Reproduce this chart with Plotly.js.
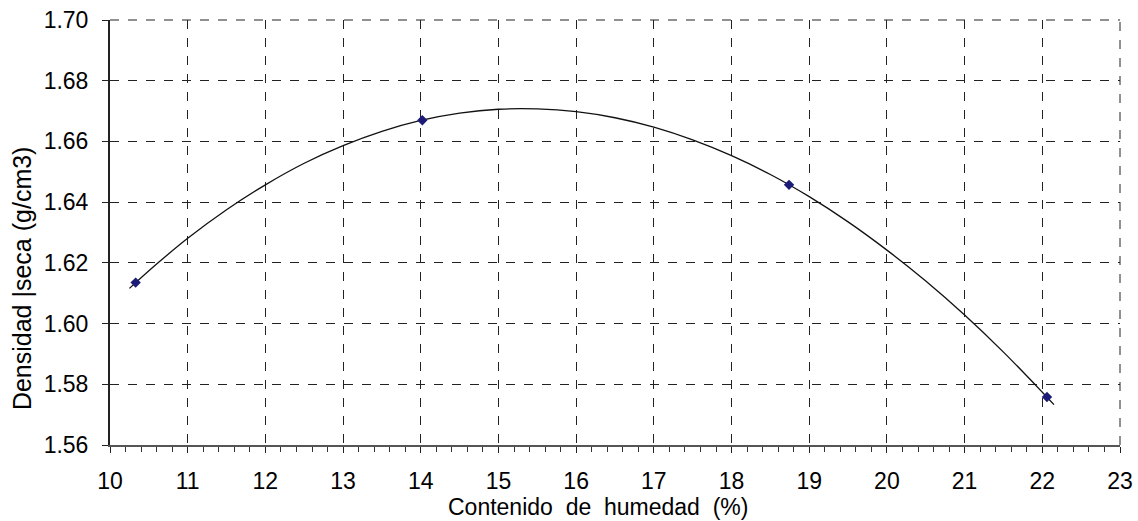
<!DOCTYPE html>
<html>
<head>
<meta charset="utf-8">
<script src="https://cdn.plot.ly/plotly-3.0.1.min.js"></script>
<style>html,body{margin:0;padding:0;background:#fff;}#chart{width:1138px;height:521px;}</style>
</head>
<body>
<div id="chart"></div>
<script>
// Measured points
var humedad = [10.33, 14.02, 18.74, 22.06];
var densidad = [1.6135, 1.667, 1.6457, 1.5758];

// Trend curve
var curveX = [10.25, 10.6, 11, 11.5, 12, 12.5, 13, 13.5, 14, 14.5, 15, 15.5, 16, 16.5, 17, 17.5, 18, 18.5, 19, 19.5, 20, 20.5, 21, 21.5, 22, 22.15];
var curveY = [1.6116, 1.6196, 1.6281, 1.6375, 1.6457, 1.6528, 1.6586, 1.6633, 1.6669, 1.6693, 1.6706, 1.6707, 1.6698, 1.6678, 1.6647, 1.6605, 1.6553, 1.6491, 1.6418, 1.6335, 1.6242, 1.6140, 1.6028, 1.5906, 1.5774, 1.5733];

var xTickVals = [10,11,12,13,14,15,16,17,18,19,20,21,22,23];
var yTickVals = [1.56,1.58,1.60,1.62,1.64,1.66,1.68,1.70];
var xTitle = 'Contenido\u00A0\u00A0de\u00A0\u00A0humedad\u00A0\u00A0(%)';
var yTitle = 'Densidad\u00A0|seca\u00A0(g/cm3)';

var traces = [
  {x: curveX, y: curveY, mode: 'lines', line: {color: '#111', width: 1.3, shape: 'spline'}, hoverinfo: 'skip'},
  {x: humedad, y: densidad, mode: 'markers', marker: {symbol: 'diamond', size: 8, color: '#1c1c78'}}
];

var gridDash = {color: '#222', width: 1, dash: 'dash'};

var layout = {
  width: 1138, height: 521,
  margin: {l: 110, r: 18, t: 20, b: 76},
  paper_bgcolor: '#fff', plot_bgcolor: '#fff',
  showlegend: false,
  font: {family: 'Liberation Sans, Arial, sans-serif', size: 23, color: '#000'},
  xaxis: {
    range: [10, 23], tickvals: xTickVals, ticktext: xTickVals.map(String),
    showgrid: true, gridcolor: '#222', griddash: 'dash', gridwidth: 1,
    showline: true, linecolor: '#555', linewidth: 2,
    ticks: 'outside', ticklen: 6, tickcolor: '#222', tickwidth: 1,
    minor: {dtick: 0.2, ticks: 'outside', ticklen: 5, tickcolor: '#333', showgrid: false},
    zeroline: false,
    ticklabelstandoff: 8,
    tickfont: {size: 23}
  },
  yaxis: {
    range: [1.56, 1.70], tickvals: yTickVals, ticktext: yTickVals.map(function(v){return v.toFixed(2);}),
    showgrid: true, gridcolor: '#222', griddash: 'dash', gridwidth: 1,
    showline: true, linecolor: '#222', linewidth: 2,
    ticks: 'outside', ticklen: 6, tickcolor: '#222', tickwidth: 1,
    zeroline: false,
    ticklabelstandoff: 9,
    tickfont: {size: 23}
  },
  annotations: [
    {text: xTitle, xref: 'paper', yref: 'paper', x: 0.483, y: -0.146, xanchor: 'center', yanchor: 'middle', showarrow: false, font: {size: 23}},
    {text: yTitle, xref: 'paper', yref: 'paper', x: -0.087, y: 0.393, xanchor: 'center', yanchor: 'middle', textangle: -90, showarrow: false, font: {size: 25}}
  ],
  shapes: [
    {type: 'line', xref: 'paper', yref: 'paper', x0: 0, x1: 1, y0: 1, y1: 1, line: gridDash},
    {type: 'line', xref: 'paper', yref: 'paper', x0: 1, x1: 1, y0: 0, y1: 1, line: gridDash}
  ]
};

Plotly.newPlot('chart', traces, layout, {displayModeBar: false, staticPlot: true});
</script>
</body>
</html>
